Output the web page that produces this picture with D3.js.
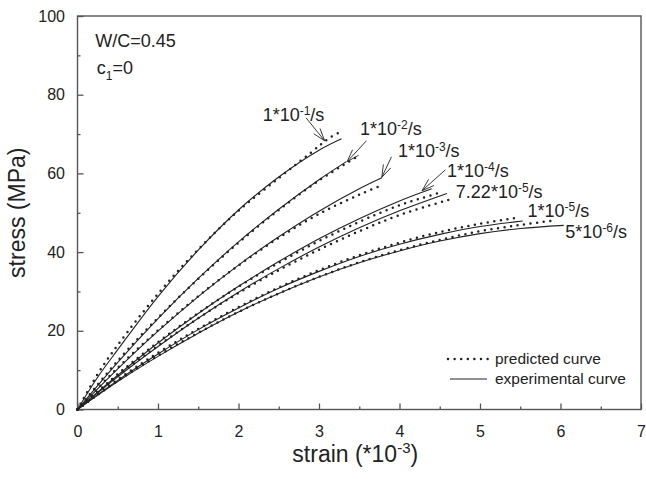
<!DOCTYPE html>
<html lang="en">
<head>
<meta charset="UTF-8">
<script src="https://d3js.org/d3.v7.min.js"></script>
<title>stress-strain</title>
<style>
  body { margin: 0; background: #fff; }
  text { font-family: "Liberation Sans", Arial, Helvetica, sans-serif; fill: #222; }
</style>
</head>
<body>
<svg id="chart" width="646" height="479"></svg>
<script>
// strain rate labels (mantissa, exponent)
const rateMant = ["1", "1", "1", "1", "7.22", "1", "5"];
const rateExpo = ["-1", "-2", "-3", "-4", "-5", "-5", "-6"];

// experimental curves [strain (*10^-3), stress (MPa)]
const exp1 = [[0,0],[0.25,8.2],[0.5,15.2],[1,28.7],[1.5,40.5],[2,50.7],[2.5,59.1],[3,65.9],[3.28,68.8]];
const exp2 = [[0,0],[0.5,12.0],[1,23.1],[1.5,33.3],[2,42.6],[2.5,50.9],[3,58.4],[3.34,63.0]];
const exp3 = [[0,0],[0.5,10.3],[1,19.9],[1.5,28.7],[2,36.7],[2.5,43.9],[3,50.4],[3.5,56.1],[3.78,58.9]];
const exp4 = [[0,0],[0.5,8.7],[1,16.9],[1.5,24.4],[2,31.3],[2.5,37.6],[3,43.4],[3.5,48.5],[4,53.0],[4.4,56.1]];
const exp5 = [[0,0],[0.5,8.3],[1,16.0],[1.5,23.2],[2,29.8],[2.5,35.8],[3,41.3],[3.5,46.2],[4,50.5],[4.59,54.9]];
const exp6 = [[0,0],[0.5,7.4],[1,14.1],[1.5,20.3],[2,25.8],[2.5,30.8],[3,35.1],[3.5,38.9],[4,42.0],[4.5,44.5],[5,46.5],[5.53,47.9]];
const exp7 = [[0,0],[0.5,7.1],[1,13.5],[1.5,19.4],[2,24.8],[2.5,29.5],[3,33.7],[3.5,37.3],[4,40.3],[4.5,42.8],[5,44.7],[5.5,46.0],[6.04,46.8]];

// predicted curves
const pred1 = [[0,0],[0.25,9.0],[0.5,16.4],[1,29.4],[1.5,40.7],[2,50.5],[2.5,58.8],[2.9,65.3],[3.1,68.6],[3.24,70.3]];
const pred2 = [[0,0],[0.5,12.4],[1,23.3],[1.5,33.2],[2,42.4],[2.5,50.7],[3,58.2],[3.47,64.2]];
const pred3 = [[0,0],[0.5,10.6],[1,20.1],[1.5,28.8],[2,36.6],[2.5,43.6],[3,49.7],[3.5,54.6],[3.78,57.0]];
const pred4 = [[0,0],[0.5,9.0],[1,17.1],[1.5,24.5],[2,31.2],[2.5,37.3],[3,42.8],[3.5,47.7],[4,51.9],[4.47,54.9]];
const pred5 = [[0,0],[0.5,8.5],[1,16.2],[1.5,23.2],[2,29.6],[2.5,35.4],[3,40.6],[3.5,45.3],[4,49.4],[4.63,53.4]];
const pred6 = [[0,0],[0.5,7.6],[1,14.4],[1.5,20.5],[2,26.0],[2.5,31.0],[3,35.4],[3.5,39.2],[4,42.4],[4.5,45.1],[5,47.2],[5.48,48.8]];
const pred7 = [[0,0],[0.5,7.3],[1,13.7],[1.5,19.5],[2,24.8],[2.5,29.5],[3,33.7],[3.5,37.4],[4,40.5],[4.5,43.1],[5,45.3],[5.5,46.9],[5.94,48.1]];

const experimental = [exp1, exp2, exp3, exp4, exp5, exp6, exp7];
const predicted = [pred1, pred2, pred3, pred4, pred5, pred6, pred7];

// label anchor (strain, stress) for each rate
const labelAt = [[2.30,73.4],[3.51,69.8],[3.98,64.2],[4.59,59.0],[4.70,53.7],[5.59,48.8],[6.06,43.5]];
// arrows: tail -> tip, first four rates
const arrowTail = [[2.84,74.1],[3.59,68.3],[3.90,64.2],[4.57,60.9]];
const arrowTip  = [[3.07,68.3],[3.35,63.0],[3.78,59.0],[4.28,55.6]];

const xTicks = [0,1,2,3,4,5,6,7];
const yTicks = [0,20,40,60,80,100];

const svg = d3.select("#chart");
const margin = { top: 16, right: 5, bottom: 69.5, left: 77.5 };
const width = 646 - margin.left - margin.right;
const height = 479 - margin.top - margin.bottom;

const x = d3.scaleLinear().domain([0, 7]).range([0, width]);
const y = d3.scaleLinear().domain([0, 100]).range([height, 0]);

const g = svg.append("g").attr("transform", "translate(" + margin.left + "," + margin.top + ")");

// minor ticks
g.append("g").attr("transform", "translate(0," + height + ")")
  .call(d3.axisBottom(x).tickValues(d3.range(0.5, 7, 1)).tickSize(-3).tickFormat(""))
  .call(a => a.select(".domain").remove());
g.append("g")
  .call(d3.axisLeft(y).tickValues(d3.range(10, 100, 20)).tickSize(-3).tickFormat(""))
  .call(a => a.select(".domain").remove());

// major ticks
const xAxis = g.append("g").attr("transform", "translate(0," + height + ")")
  .call(d3.axisBottom(x).tickValues(xTicks).tickSize(-6).tickPadding(16).tickFormat(d3.format("d")));
const yAxis = g.append("g")
  .call(d3.axisLeft(y).tickValues(yTicks).tickSize(-6).tickPadding(12.5));

[xAxis, yAxis].forEach(a => {
  a.selectAll("text").style("font-size", "16px").attr("fill", "#222");
  a.select(".domain").remove();
});
g.selectAll(".tick line").attr("stroke", "#555").attr("stroke-width", 1.3);

// frame
g.append("rect").attr("width", width).attr("height", height)
  .attr("fill", "none").attr("stroke", "#555").attr("stroke-width", 1.4);

const line = d3.line().x(d => x(d[0])).y(d => y(d[1])).curve(d3.curveCatmullRom);

g.selectAll(".exp").data(experimental).enter().append("path")
  .attr("class", "exp")
  .attr("d", line)
  .attr("fill", "none").attr("stroke", "#222").attr("stroke-width", 1.1);

g.selectAll(".pred").data(predicted).enter().append("path")
  .attr("class", "pred")
  .attr("d", line)
  .attr("fill", "none").attr("stroke", "#222").attr("stroke-width", 2.5)
  .attr("stroke-linecap", "round").attr("stroke-dasharray", "0,6.6");

// arrows
arrowTip.forEach((tip, i) => {
  const x1 = x(arrowTail[i][0]), y1 = y(arrowTail[i][1]);
  const x2 = x(tip[0]), y2 = y(tip[1]);
  const ang = Math.atan2(y1 - y2, x1 - x2);
  g.append("line").attr("x1", x1).attr("y1", y1).attr("x2", x2).attr("y2", y2)
    .attr("stroke", "#222").attr("stroke-width", 0.9);
  [-0.32, 0.32].forEach(da => {
    g.append("line").attr("x1", x2).attr("y1", y2)
      .attr("x2", x2 + 13 * Math.cos(ang + da)).attr("y2", y2 + 13 * Math.sin(ang + da))
      .attr("stroke", "#222").attr("stroke-width", 0.9);
  });
});

// rate labels
labelAt.forEach((p, i) => {
  const t = g.append("text").attr("x", x(p[0])).attr("y", y(p[1])).style("font-size", "18px");
  t.append("tspan").text(rateMant[i] + "*10");
  t.append("tspan").text(rateExpo[i]).attr("dy", -6).style("font-size", "12px");
  t.append("tspan").text("/s").attr("dy", 6);
});

// W/C and c1
g.append("text").attr("x", x(0.22)).attr("y", y(92.2)).style("font-size", "18px").text("W/C=0.45");
const c1 = g.append("text").attr("x", x(0.24)).attr("y", y(85.3)).style("font-size", "18px");
c1.append("tspan").text("c");
c1.append("tspan").text("1").attr("dy", 6).style("font-size", "12px");
c1.append("tspan").text("=0").attr("dy", -6);

// legend
const legend = g.append("g").attr("transform", "translate(" + (448 - margin.left) + "," + (359 - margin.top) + ")");
legend.append("line").attr("x1", 0).attr("x2", 40).attr("y1", 0).attr("y2", 0)
  .attr("stroke", "#222").attr("stroke-width", 2.5).attr("stroke-linecap", "round").attr("stroke-dasharray", "0,6.6");
legend.append("line").attr("x1", 2).attr("x2", 39).attr("y1", 20).attr("y2", 20)
  .attr("stroke", "#222").attr("stroke-width", 1.1);
legend.append("text").attr("x", 47).attr("y", 0).attr("dy", "0.35em").style("font-size", "15.5px").text("predicted curve");
legend.append("text").attr("x", 47).attr("y", 20).attr("dy", "0.35em").style("font-size", "15.5px").text("experimental curve");

// axis titles
const xt = svg.append("text").attr("x", margin.left + width / 2 - 4).attr("y", 462)
  .attr("text-anchor", "middle").style("font-size", "23px");
xt.append("tspan").text("strain (*10");
xt.append("tspan").text("-3").attr("dy", -9).style("font-size", "15px");
xt.append("tspan").text(")").attr("dy", 9);

svg.append("text").attr("transform", "translate(25," + (margin.top + height / 2) + ") rotate(-90)")
  .attr("text-anchor", "middle").style("font-size", "23px").text("stress (MPa)");
</script>
</body>
</html>
